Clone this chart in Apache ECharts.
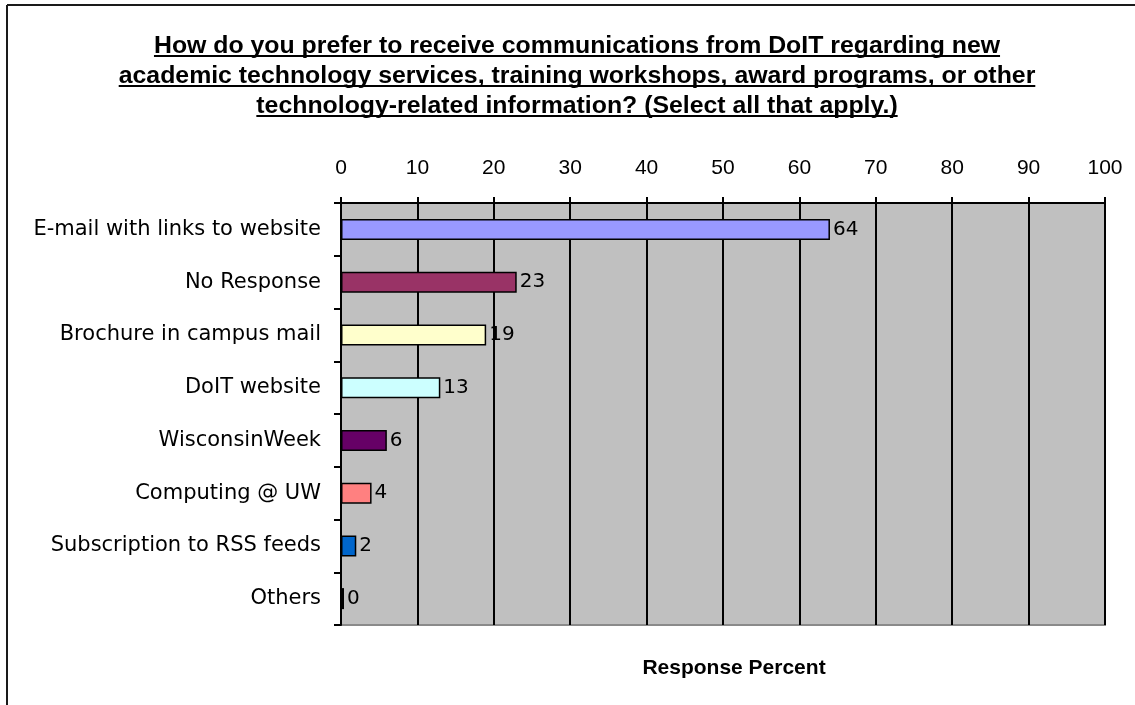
<!DOCTYPE html>
<html>
<head>
<meta charset="utf-8">
<style>
  html, body { margin: 0; padding: 0; background: #ffffff; }
  #chart { width: 1135px; height: 705px; }
</style>
<script src="https://cdn.jsdelivr.net/npm/echarts@6/dist/echarts.min.js"></script>
</head>
<body>
<div id="chart"></div>
<script>
// Survey answers, listed top to bottom
const categories = [
  'E-mail with links to website',
  'No Response',
  'Brochure in campus mail',
  'DoIT website',
  'WisconsinWeek',
  'Computing @ UW',
  'Subscription to RSS feeds',
  'Others'
];
// Response percent for each answer
const responsePercent = [64, 23, 19, 13, 6, 4, 2, 0];
// Fill colour of each bar
const barColors = ['#9999ff', '#993366', '#ffffcc', '#ccffff', '#660066', '#ff8080', '#0066cc', '#000000'];
// Value axis ticks
const axisMin = 0;
const axisMax = 100;
const axisStep = 10;

const titleLines = [
  'How do you prefer to receive communications from DoIT regarding new',
  'academic technology services, training workshops, award programs, or other',
  'technology-related information? (Select all that apply.)'
];

const chart = echarts.init(document.getElementById('chart'), null, { renderer: 'canvas' });

const sansFont = "'Liberation Sans', Arial, sans-serif";
const labelFont = "'DejaVu Sans', 'Liberation Sans', sans-serif";

// Title: bold, slightly stretched, each line underlined
const titleFontCss = "bold 23px " + sansFont;
const titleCenterX = 577;
const titleStretch = 1.08;
const measureCtx = document.createElement('canvas').getContext('2d');
measureCtx.font = titleFontCss;

const titleGraphics = [];
titleLines.forEach((line, i) => {
  const underlineY = 56 + i * 30;
  const w = measureCtx.measureText(line).width * titleStretch;
  titleGraphics.push({
    type: 'text',
    x: titleCenterX,
    y: underlineY + 2,
    scaleX: titleStretch,
    style: {
      text: line,
      x: 0, y: 0,
      font: titleFontCss,
      fill: '#000000',
      textAlign: 'center',
      textVerticalAlign: 'bottom'
    }
  });
  titleGraphics.push({
    type: 'line',
    shape: { x1: titleCenterX - w / 2, y1: underlineY, x2: titleCenterX + w / 2, y2: underlineY },
    style: { stroke: '#000000', lineWidth: 2 }
  });
});

const option = {
  animation: false,
  backgroundColor: '#ffffff',
  grid: {
    left: 341, top: 203, width: 764, height: 422,
    show: true,
    backgroundColor: '#c0c0c0',
    borderColor: '#8a8a8a',
    borderWidth: 2
  },
  graphic: [
    { type: 'line', shape: { x1: 7, y1: 5, x2: 1135, y2: 5 }, style: { stroke: '#1a1a1a', lineWidth: 2 } },
    { type: 'line', shape: { x1: 7, y1: 5, x2: 7, y2: 705 }, style: { stroke: '#1a1a1a', lineWidth: 2 } },
    ...titleGraphics
  ],
  xAxis: {
    type: 'value',
    position: 'top',
    min: axisMin,
    max: axisMax,
    interval: axisStep,
    name: 'Response Percent',
    nameLocation: 'middle',
    nameGap: -476,
    nameTextStyle: { fontFamily: sansFont, fontWeight: 'bold', fontSize: 21, color: '#000', padding: [0, 0, 0, 22] },
    axisLine: { show: true, lineStyle: { color: '#000', width: 2 } },
    axisTick: { show: true, length: 6, lineStyle: { color: '#000', width: 2 } },
    axisLabel: { margin: 24, fontFamily: sansFont, fontSize: 21, color: '#000' },
    splitLine: { show: true, lineStyle: { color: '#000', width: 2 } }
  },
  yAxis: {
    type: 'category',
    inverse: true,
    data: categories,
    axisLine: { show: true, lineStyle: { color: '#000', width: 2 } },
    axisTick: { show: true, length: 7, lineStyle: { color: '#000', width: 2 } },
    axisLabel: { margin: 20, fontFamily: labelFont, fontSize: 21, color: '#000' },
    splitLine: { show: false }
  },
  series: [{
    type: 'bar',
    data: responsePercent.map((v, i) => ({ value: v, itemStyle: { color: barColors[i] } })),
    barWidth: 21,
    barMinHeight: 3,
    itemStyle: { borderColor: '#000', borderWidth: 1.5 },
    label: {
      show: true,
      position: 'right',
      distance: 3,
      fontFamily: labelFont,
      fontSize: 20,
      color: '#000'
    }
  }]
};

chart.setOption(option);
</script>
</body>
</html>
